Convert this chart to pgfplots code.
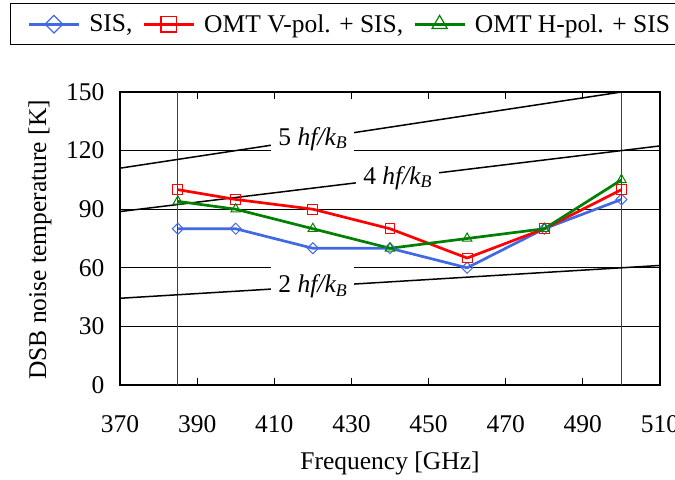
\documentclass[border=0pt]{standalone}
\usepackage{pgfplots}
\pgfplotsset{compat=1.18}
\usepackage{fontspec}
\setmainfont{Liberation Serif}

\definecolor{sisblue}{RGB}{65,105,225}
\definecolor{vpolred}{RGB}{255,0,0}
\definecolor{hpolgreen}{RGB}{0,128,0}

\begin{document}
\begin{tikzpicture}[font=\fontsize{25.5bp}{30bp}\selectfont]
\begin{axis}[
  at={(0,0)}, anchor=south west,
  width=540bp, height=293bp, scale only axis,
  xmin=370, xmax=510, ymin=0, ymax=150,
  xtick={370,390,...,510}, ytick={0,30,...,150},
  tick align=inside, major tick length=7bp,
  every tick/.style={black, line width=0.8bp},
  ymajorgrids, grid style={black, line width=0.8bp},
  axis line style={line width=1.2bp},
  /pgf/number format/assume math mode=true,
  /pgf/number format/1000 sep={},
  xticklabel style={anchor=center, yshift=-39bp},
  yticklabel style={anchor=east, xshift=-12bp},
  xlabel={Frequency [GHz]},
  ylabel={DSB noise temperature [K]},
  every axis x label/.style={at={(axis description cs:0.5,-0.266)}, anchor=center},
  every axis y label/.style={at={(axis description cs:-0.148,0.495)}, rotate=90, anchor=center},
  extra x ticks={385,500}, extra x tick labels={},
  extra x tick style={grid=major, major grid style={black!75, line width=0.9bp}, major tick length=0pt},
  legend columns=-1,
  legend style={at={(axis description cs:-0.2037,1.3038)}, anchor=north west,
    draw=black, line width=1.2bp, inner xsep=17bp, inner ysep=4bp,
    nodes={inner xsep=0bp, inner ysep=7bp},
    /tikz/every odd column/.append style={column sep=9bp},
    /tikz/every even column/.append style={column sep=10bp}},
  legend image code/.code={\draw[mark repeat=2, mark phase=2, line width=2.7bp,
      /tikz/every mark/.append style={scale=1.6, line width=1.2bp}]
    plot coordinates {(0bp,0bp) (25bp,0bp) (50bp,0bp)};},
]
% constant multiples of hf/k_B
\addplot[black, line width=1.5bp, forget plot] coordinates {(370,44.4) (510,61.2)};
\addplot[black, line width=1.5bp, forget plot] coordinates {(370,88.8) (510,122.4)};
\addplot[black, line width=1.5bp, forget plot] coordinates {(370,111.0) (510,153.0)};
\node[fill=white, inner xsep=7bp, inner ysep=9bp] at (axis cs:420,50.4) {2 \textit{hf/k\textsubscript{B}}};
\node[fill=white, inner xsep=7bp, inner ysep=9bp] at (axis cs:442,106.1) {4 \textit{hf/k\textsubscript{B}}};
\node[fill=white, inner xsep=7bp, inner ysep=9bp] at (axis cs:420,126.0) {5 \textit{hf/k\textsubscript{B}}};

\addplot[sisblue, line width=2.7bp, mark=square, mark size=3.9bp,
  mark options={solid, fill=white, line width=1bp, rotate=45}]
  coordinates {(385,80) (400,80) (420,70) (440,70) (460,60) (480,80) (500,95)};
\addplot[vpolred, line width=2.7bp, mark=square, mark size=4.9bp,
  mark options={solid, fill=none, line width=1bp}]
  coordinates {(385,100) (400,95) (420,90) (440,80) (460,65) (480,80) (500,100)};
\addplot[hpolgreen, line width=2.7bp, mark=triangle, mark size=5.5bp,
  mark options={solid, fill=none, line width=1bp}]
  coordinates {(385,94) (400,90) (420,80) (440,70) (460,75) (480,80) (500,105)};
\legend{SIS{,}, OMT V-pol. + SIS{,}, OMT H-pol. + SIS}
\end{axis}
\pgfresetboundingbox
\path[use as bounding box] (-120bp,-95bp) rectangle (555bp,385bp);
\end{tikzpicture}
\end{document}
